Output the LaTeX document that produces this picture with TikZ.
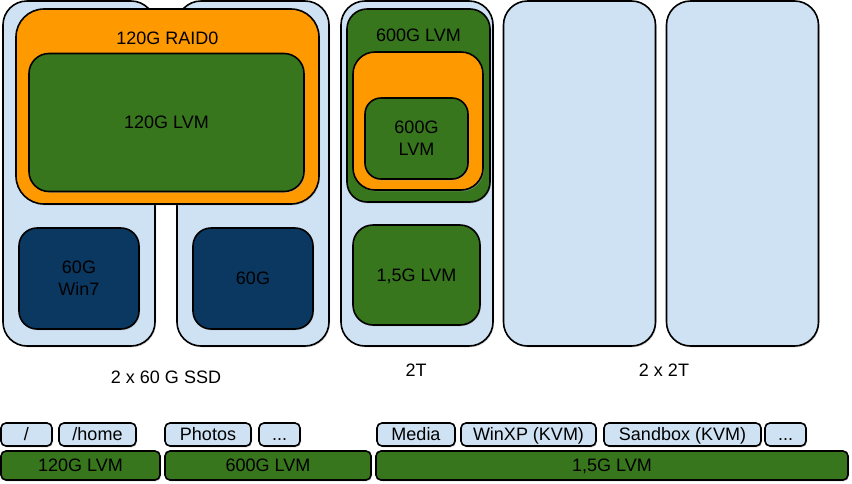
\documentclass[tikz,border=0pt]{standalone}
\usepackage{fontspec}
\setmainfont{Liberation Sans}
\usetikzlibrary{shadows}
\definecolor{diskblue}{HTML}{CFE2F3}
\definecolor{raidorange}{HTML}{FF9900}
\definecolor{lvmgreen}{HTML}{38761D}
\definecolor{partblue}{HTML}{0B3861}

\begin{document}
\begin{tikzpicture}[x=1pt,y=-1pt,
		every node/.append style={font=\fontsize{18}{22}\selectfont, inner sep=0pt},
		box/.style={draw=black, line width=1.6pt, rectangle, drop shadow={shadow xshift=1pt, shadow yshift=-1.3pt, fill=black!35}},
		disk/.style={box, fill=diskblue, rounded corners=24pt, minimum width=152pt, minimum height=345pt},
		raidbox/.style={box, fill=raidorange, rounded corners=28pt},
		lvmbox/.style={box, fill=lvmgreen, rounded corners=20pt, align=center},
		partbox/.style={box, fill=partblue, rounded corners=18pt, align=center},
		tagbox/.style={box, fill=diskblue, rounded corners=5pt, minimum height=23pt, text height=12.9pt, text depth=0pt},
		barbox/.style={box, fill=lvmgreen, rounded corners=5pt, minimum height=29pt, text height=12.9pt, text depth=0pt},
		caption/.style={text height=12.9pt, text depth=0pt}]
			\useasboundingbox (0,0) rectangle (852,483);
			\node [disk] (ssda) at (79,173.5) {};
			\node [disk] (ssdb) at (253,173.5) {};
			\node [disk] (hdda) at (417,173.5) {};
			\node [disk] (hddb) at (579.5,173.5) {};
			\node [disk] (hddc) at (742.5,173.5) {};
			\node [raidbox, minimum width=303pt, minimum height=195pt] (raidssd) at (167.5,106.5) {};
			\node [caption] (raidssdlbl) at (167.5,38.5) {120G RAID0};
			\node [lvmbox, minimum width=275pt, minimum height=138pt, text height=12.9pt, text depth=0pt] (lvmssd) at (166.5,122.5) {120G LVM};
			\node [partbox, minimum width=120pt, minimum height=101pt] (win) at (79,278.5) {60G\\Win7};
			\node [partbox, minimum width=120pt, minimum height=101pt, text height=12.9pt, text depth=0pt] (spare) at (253,278.5) {60G};
			\node [lvmbox, minimum width=143pt, minimum height=193pt] (lvmhdd) at (418.5,105.5) {};
			\node [caption] (lvmhddlbl) at (418.5,35) {600G LVM};
			\node [raidbox, rounded corners=22pt, minimum width=130pt, minimum height=138pt] (raidhdd) at (418,121) {};
			\node [lvmbox, rounded corners=16pt, minimum width=103pt, minimum height=81pt] (lvmin) at (416.5,138.5) {600G\\LVM};
			\node [lvmbox, minimum width=127pt, minimum height=100pt, text height=12.9pt, text depth=0pt] (lvmbig) at (416.5,275) {1,5G LVM};
			\node [caption] (ssdlbl) at (166,377) {2 x 60 G SSD};
			\node [caption] (hddalbl) at (416,370) {2T};
			\node [caption] (hddblbl) at (664,370) {2 x 2T};
			\node [tagbox, minimum width=51pt] (root) at (26.5,434.5) {/};
			\node [tagbox, minimum width=77pt] (home) at (97.5,434.5) {/home};
			\node [tagbox, minimum width=86pt] (photos) at (208,434.5) {Photos};
			\node [tagbox, minimum width=41pt] (morea) at (279.5,434.5) {...};
			\node [tagbox, minimum width=78pt] (media) at (416,434.5) {Media};
			\node [tagbox, minimum width=135pt] (winxp) at (528.5,434.5) {WinXP (KVM)};
			\node [tagbox, minimum width=157pt] (sandbox) at (682.5,434.5) {Sandbox (KVM)};
			\node [tagbox, minimum width=41pt] (moreb) at (785.5,434.5) {...};
			\node [barbox, minimum width=159pt] (bara) at (80.5,465.5) {120G LVM};
			\node [barbox, minimum width=206pt] (barb) at (268,465.5) {600G LVM};
			\node [barbox, minimum width=472pt] (barc) at (612,465.5) {1,5G LVM};
\end{tikzpicture}
\end{document}
